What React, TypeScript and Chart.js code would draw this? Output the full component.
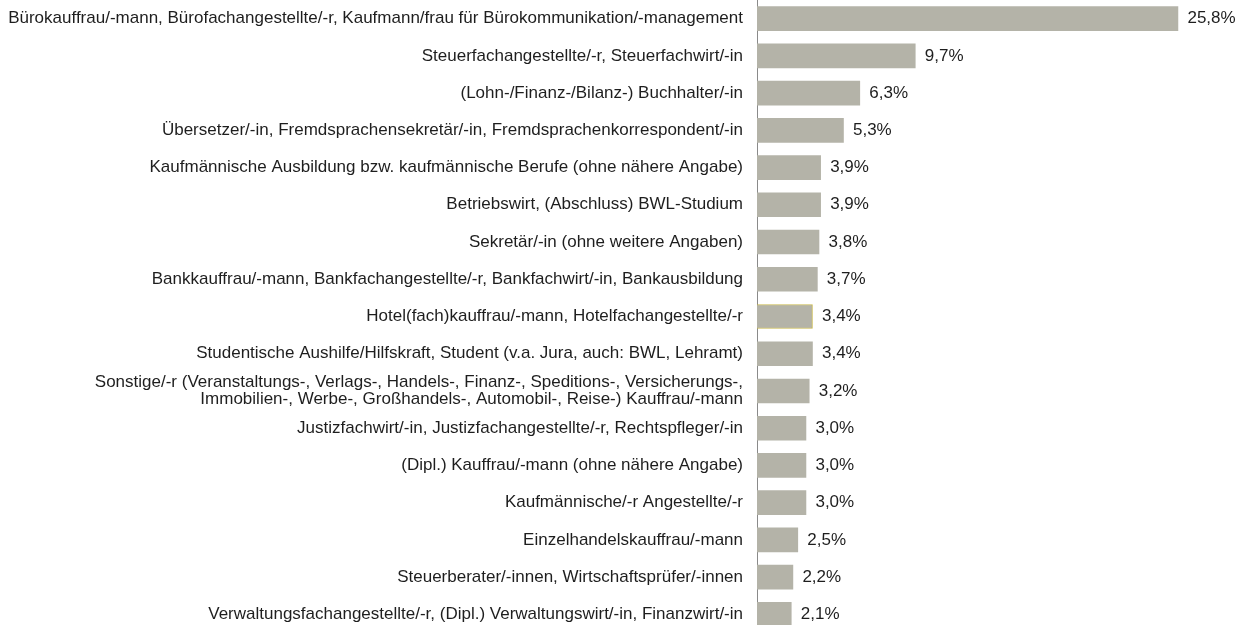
import React, { useEffect, useRef } from "react";
import { Chart, registerables } from "chart.js";

Chart.register(...registerables);

const categories: (string | string[])[] = [
  "Bürokauffrau/-mann, Bürofachangestellte/-r, Kaufmann/frau für Bürokommunikation/-management",
  "Steuerfachangestellte/-r, Steuerfachwirt/-in",
  "(Lohn-/Finanz-/Bilanz-) Buchhalter/-in",
  "Übersetzer/-in, Fremdsprachensekretär/-in, Fremdsprachenkorrespondent/-in",
  "Kaufmännische Ausbildung bzw. kaufmännische Berufe (ohne nähere Angabe)",
  "Betriebswirt, (Abschluss) BWL-Studium",
  "Sekretär/-in (ohne weitere Angaben)",
  "Bankkauffrau/-mann, Bankfachangestellte/-r, Bankfachwirt/-in, Bankausbildung",
  "Hotel(fach)kauffrau/-mann, Hotelfachangestellte/-r",
  "Studentische Aushilfe/Hilfskraft, Student (v.a. Jura, auch: BWL, Lehramt)",
  [
    "Sonstige/-r (Veranstaltungs-, Verlags-, Handels-, Finanz-, Speditions-, Versicherungs-,",
    "Immobilien-, Werbe-, Großhandels-, Automobil-, Reise-) Kauffrau/-mann",
  ],
  "Justizfachwirt/-in, Justizfachangestellte/-r, Rechtspfleger/-in",
  "(Dipl.) Kauffrau/-mann (ohne nähere Angabe)",
  "Kaufmännische/-r Angestellte/-r",
  "Einzelhandelskauffrau/-mann",
  "Steuerberater/-innen, Wirtschaftsprüfer/-innen",
  "Verwaltungsfachangestellte/-r, (Dipl.) Verwaltungswirt/-in, Finanzwirt/-in",
];

const shares: number[] = [
  25.8, 9.7, 6.3, 5.3, 3.9, 3.9, 3.8, 3.7, 3.4, 3.4, 3.2, 3.0, 3.0, 3.0, 2.5, 2.2, 2.1,
];

const FONT = '"Liberation Sans", Arial, sans-serif';
const TEXT = "#1e1e1e";
const BAR = "#b4b3a8";

const valueLabels = {
  id: "valueLabels",
  afterDatasetsDraw(chart: any) {
    const ctx = chart.ctx;
    const meta = chart.getDatasetMeta(0);
    ctx.save();
    ctx.font = `17px ${FONT}`;
    ctx.fillStyle = TEXT;
    ctx.textAlign = "left";
    ctx.textBaseline = "middle";
    meta.data.forEach((bar: any, i: number) => {
      const txt = shares[i].toFixed(1).replace(".", ",") + "%";
      ctx.fillText(txt, bar.x + 9.5, bar.y);
    });
    ctx.restore();
  },
};

export default function App() {
  const ref = useRef<HTMLCanvasElement | null>(null);

  useEffect(() => {
    if (!ref.current) return;
    const chart = new Chart(ref.current, {
      type: "bar",
      data: {
        labels: categories,
        datasets: [
          {
            data: shares,
            backgroundColor: BAR,
            borderColor: shares.map((_, i) => (i === 8 ? "#c9b94e" : BAR)),
            borderWidth: shares.map((_, i) => (i === 8 ? 1 : 0)),
            barThickness: 24,
          },
        ],
      },
      options: {
        indexAxis: "y",
        responsive: false,
        animation: false,
        devicePixelRatio: 1,
        layout: { padding: 0 },
        plugins: {
          legend: { display: false },
          tooltip: { enabled: false },
          title: { display: false },
        },
        scales: {
          x: {
            display: false,
            min: 0,
            max: 29.85,
          },
          y: {
            position: "left",
            afterFit: (s: any) => {
              s.width = 757;
              s.paddingTop = 0;
              s.paddingBottom = 0;
            },
            grid: { display: true, color: "rgba(0,0,0,0)", drawTicks: false },
            border: { display: true, color: "#8a8a8a", width: 1 },
            ticks: {
              padding: 14,
              color: TEXT,
              font: { family: FONT, size: 17, lineHeight: 1.04 },
              autoSkip: false,
            },
          },
        },
      },
      plugins: [valueLabels],
    });
    return () => chart.destroy();
  }, []);

  return (
    <div
      style={{
        position: "absolute",
        left: 0,
        top: 0,
        width: 1244,
        height: 625,
        overflow: "hidden",
        background: "#ffffff",
      }}
    >
      <canvas ref={ref} width={1244} height={633} style={{ display: "block" }} />
    </div>
  );
}
